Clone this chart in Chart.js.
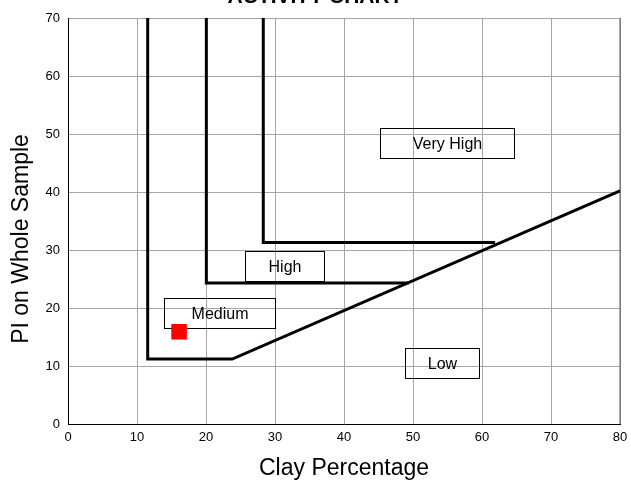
<!DOCTYPE html>
<html><head><meta charset="utf-8">
<script src="https://cdn.jsdelivr.net/npm/chart.js@4/dist/chart.umd.min.js"></script>
<style>html,body{margin:0;padding:0;background:#fff;overflow:hidden}#wrap{width:631px;height:483px}</style>
</head><body><div id="wrap"><canvas id="c" width="631" height="483"></canvas></div>
<script>
const chartTitle = "ACTIVITY CHART";
const xTitle = "Clay Percentage";
const yTitle = "PI on Whole Sample";
// boundary lines
const lowerX = [11.55, 11.55, 23.8, 80];
const lowerY = [70, 11.2, 11.2, 40.2];
const midX = [20.05, 20.05, 49.4];
const midY = [70, 24.3, 24.3];
const upperX = [28.3, 28.3, 61.9];
const upperY = [70, 31.3, 31.3];
// sample point
const sampleX = [16.1];
const sampleY = [15.9];
// zone labels (data-coordinate boxes)
const zoneNames = ["Very High", "High", "Medium", "Low"];
const zoneX1 = [45.2, 25.6, 13.9, 48.8];
const zoneX2 = [64.7, 37.1, 30.0, 59.6];
const zoneY1 = [51.0, 29.8, 21.7, 13.1];
const zoneY2 = [45.9, 24.6, 16.6, 7.9];

const pts = (xs, ys) => xs.map((x, i) => ({x, y: ys[i]}));
const lineDs = (xs, ys) => ({data: pts(xs, ys), showLine: true, borderColor: '#000', borderWidth: 3,
  pointRadius: 0, fill: false, tension: 0, borderJoinStyle: 'miter', borderCapStyle: 'butt'});

const F = '"Liberation Sans", Arial, sans-serif';
const noPad = () => ({left: 0, right: 0, top: 0, bottom: 0});

const boxPlugin = {
  id: 'boxes',
  beforeDatasetsDraw(chart) {
    const {ctx, scales: {x, y}} = chart;
    ctx.save();
    ctx.strokeStyle = '#000'; ctx.lineWidth = 1;
    ctx.font = '16px ' + F; ctx.fillStyle = '#000';
    ctx.textAlign = 'center'; ctx.textBaseline = 'middle';
    zoneNames.forEach((n, i) => {
      const l = Math.round(x.getPixelForValue(zoneX1[i])) + 0.5;
      const r = Math.round(x.getPixelForValue(zoneX2[i])) + 0.5;
      const t = Math.round(y.getPixelForValue(zoneY1[i])) + 0.5;
      const b = Math.round(y.getPixelForValue(zoneY2[i])) + 0.5;
      ctx.strokeRect(l, t, r - l, b - t);
      ctx.fillText(n, (l + r) / 2, (t + b) / 2 + 1);
    });
    const ca = chart.chartArea;
    ctx.strokeStyle = '#555';
    ctx.beginPath();
    ctx.moveTo(x.getPixelForValue(80), ca.top);
    ctx.lineTo(x.getPixelForValue(80), ca.bottom);
    ctx.stroke();
    ctx.restore();
  },
  afterDraw(chart) {
    const ctx = chart.ctx;
    ctx.save();
    ctx.font = 'bold 21px ' + F; ctx.fillStyle = '#000';
    ctx.textAlign = 'center'; ctx.textBaseline = 'alphabetic';
    ctx.fillText(chartTitle, 315, 3);
    ctx.font = '23px ' + F;
    ctx.translate(22, 239);
    ctx.rotate(-Math.PI / 2);
    ctx.textBaseline = 'middle';
    ctx.fillText(yTitle, 0, 0);
    ctx.restore();
  }
};

new Chart(document.getElementById('c'), {
  type: 'scatter',
  data: {datasets: [
    lineDs(lowerX, lowerY), lineDs(midX, midY), lineDs(upperX, upperY),
    {data: pts(sampleX, sampleY), pointStyle: 'rect', pointRadius: 11, backgroundColor: '#ff0000', borderColor: '#ff0000', borderWidth: 0, showLine: false}
  ]},
  options: {
    responsive: false, animation: false,
    layout: {padding: {top: 18, right: 8, left: 0, bottom: 0}},
    plugins: {legend: {display: false}, tooltip: {enabled: false}},
    scales: {
      x: {type: 'linear', min: 0, max: 80,
        ticks: {stepSize: 10, color: '#000', font: {family: F, size: 13}, padding: 6, maxRotation: 0},
        grid: {color: '#a6a6a6', drawTicks: false, lineWidth: 1},
        border: {color: '#000', width: 1},
        title: {display: true, text: xTitle, color: '#000', font: {family: F, size: 23}, padding: {top: 0, bottom: 1}},
        afterFit(s) { s.height = 59; s.paddingRight = 0; s.paddingLeft = 0; s.getPadding = noPad; }
      },
      y: {type: 'linear', min: 0, max: 70,
        ticks: {stepSize: 10, color: '#000', font: {family: F, size: 13}, padding: 8},
        grid: {color: '#a6a6a6', drawTicks: false, lineWidth: 1},
        border: {color: '#000', width: 1},
        title: {display: false, text: yTitle},
        afterFit(s) { s.width = 68; s.paddingTop = 0; s.paddingBottom = 0; s.getPadding = noPad; }
      }
    }
  },
  plugins: [boxPlugin]
});
</script></body></html>
